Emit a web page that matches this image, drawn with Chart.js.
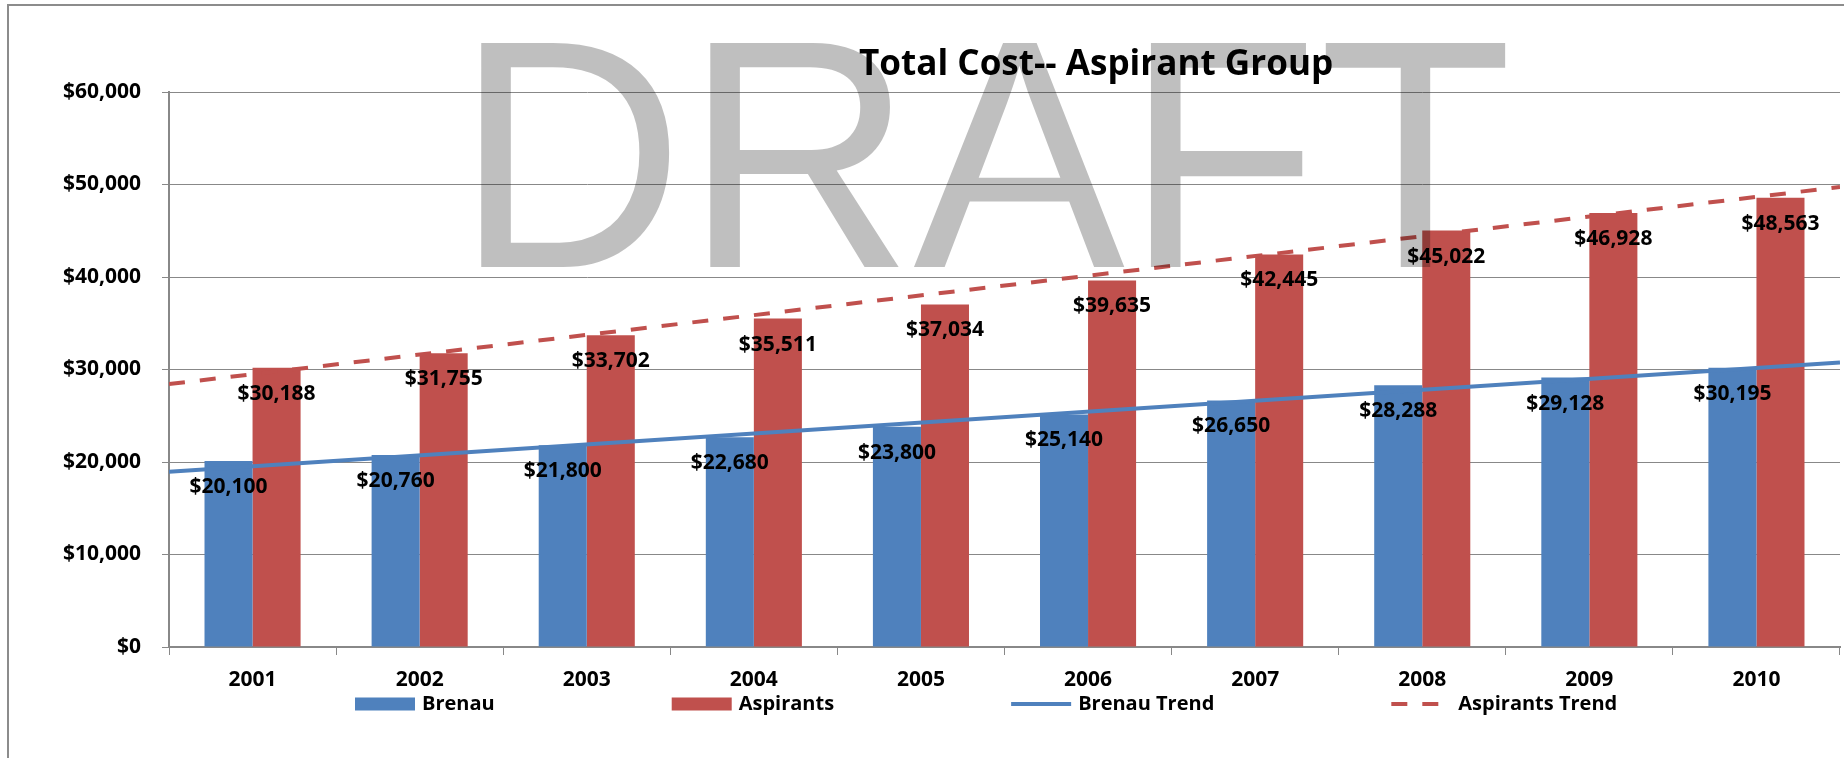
<!DOCTYPE html>
<html>
<head>
<meta charset="utf-8">
<title>Total Cost-- Aspirant Group</title>
<script src="https://cdn.jsdelivr.net/npm/chart.js@4.4.1/dist/chart.umd.min.js"></script>
<style>
  html, body { margin: 0; padding: 0; background: #fff; }
  canvas { display: block; }
</style>
</head>
<body>
<canvas id="cost" width="1844" height="758"></canvas>
<script>
var years = ['2001', '2002', '2003', '2004', '2005', '2006', '2007', '2008', '2009', '2010'];
var brenau = [20100, 20760, 21800, 22680, 23800, 25140, 26650, 28288, 29128, 30195];
var aspirants = [30188, 31755, 33702, 35511, 37034, 39635, 42445, 45022, 46928, 48563];
// trend lines as read where they meet the left and right edges of the plot
// (category index, half a year before 2001 and after 2010)
var trendSpan = [-0.5, 9.5];
var brenauTrend = [18940, 30770];
var aspirantsTrend = [28420, 49730];
var yTicks = [0, 10000, 20000, 30000, 40000, 50000, 60000];

var blue = '#4F81BD';
var red = '#C0504D';
var gridGray = '#888888';

function money(v) {
    return '$' + Number(v).toLocaleString('en-US');
}

function trendPoints(vals) {
    return trendSpan.map(function (x, i) { return { x: x, y: vals[i] }; });
}

Chart.defaults.font.family = "'Open Sans', sans-serif";
Chart.defaults.font.weight = 'bold';
Chart.defaults.font.size = 21;
Chart.defaults.color = '#000';

var extras = {
    id: 'extras',
    beforeDraw: function (chart) {
        var ctx = chart.ctx;
        ctx.save();
        ctx.fillStyle = '#fff';
        ctx.fillRect(0, 0, chart.width, chart.height);
        // outer frame, only top and left edges fall inside the picture
        ctx.strokeStyle = '#8c8c8c';
        ctx.lineWidth = 2;
        ctx.beginPath();
        ctx.moveTo(8, chart.height);
        ctx.lineTo(8, 5);
        ctx.lineTo(chart.width, 5);
        ctx.stroke();
        ctx.restore();
    },
    afterDatasetsDraw: function (chart) {
        var ctx = chart.ctx;
        ctx.save();
        ctx.font = 'bold 21px "Open Sans"';
        ctx.fillStyle = '#000';
        ctx.textAlign = 'center';
        ctx.textBaseline = 'middle';
        chart.data.datasets.forEach(function (ds, i) {
            if (ds.type !== 'bar') return;
            chart.getDatasetMeta(i).data.forEach(function (bar, j) {
                ctx.fillText(money(ds.data[j]), bar.x, bar.y + 26);
            });
        });
        ctx.restore();
    },
    afterDraw: function (chart) {
        var ctx = chart.ctx;
        var area = chart.chartArea;

        // legend
        ctx.save();
        ctx.font = 'bold 20px "Open Sans"';
        ctx.textBaseline = 'middle';
        var lx = area.left + 186;
        var ly = area.bottom + 57;
        chart.data.datasets.forEach(function (ds) {
            if (ds.type === 'line') {
                ctx.strokeStyle = ds.borderColor;
                ctx.lineWidth = ds.borderWidth;
                ctx.setLineDash(ds.borderDash || []);
                ctx.beginPath();
                ctx.moveTo(lx, ly);
                ctx.lineTo(lx + 60, ly);
                ctx.stroke();
                ctx.setLineDash([]);
            } else {
                ctx.fillStyle = ds.backgroundColor;
                ctx.fillRect(lx, ly - 6.5, 60, 13);
            }
            ctx.fillStyle = '#000';
            ctx.fillText(ds.label, lx + 67, ly);
            lx += 67 + ctx.measureText(ds.label).width + 177;
        });
        ctx.restore();

        // DRAFT watermark
        ctx.save();
        ctx.font = '320px "Liberation Sans"';
        ctx.textBaseline = 'alphabetic';
        ctx.textAlign = 'left';
        var m = ctx.measureText('DRAFT');
        var sx = 1027 / (m.actualBoundingBoxLeft + m.actualBoundingBoxRight);
        var sy = 229 / m.actualBoundingBoxAscent;
        ctx.translate(480, 267);
        ctx.scale(sx, sy);
        ctx.fillStyle = 'rgba(0,0,0,0.25)';
        ctx.fillText('DRAFT', m.actualBoundingBoxLeft, 0);
        ctx.restore();

        // title
        ctx.save();
        ctx.font = 'bold 35px "Open Sans"';
        ctx.textBaseline = 'alphabetic';
        ctx.textAlign = 'left';
        var t = chart.options.plugins.title.text;
        var tm = ctx.measureText(t);
        ctx.translate(859, 75);
        ctx.scale(473 / (tm.actualBoundingBoxLeft + tm.actualBoundingBoxRight), 1);
        ctx.fillStyle = '#000';
        ctx.fillText(t, tm.actualBoundingBoxLeft, 0);
        ctx.restore();
    }
};

var ctx = document.getElementById('cost').getContext('2d');
var costChart = new Chart(ctx, {
    type: 'bar',
    data: {
        labels: years,
        datasets: [
            {
                type: 'bar',
                label: 'Brenau',
                data: brenau,
                xAxisID: 'x',
                backgroundColor: blue,
                categoryPercentage: 0.575,
                barPercentage: 1.0,
                order: 1
            },
            {
                type: 'bar',
                label: 'Aspirants',
                data: aspirants,
                xAxisID: 'x',
                backgroundColor: red,
                categoryPercentage: 0.575,
                barPercentage: 1.0,
                order: 1
            },
            {
                type: 'line',
                label: 'Brenau Trend',
                data: trendPoints(brenauTrend),
                parsing: false,
                xAxisID: 'x',
                borderColor: blue,
                borderWidth: 4,
                pointRadius: 0,
                fill: false,
                order: 0
            },
            {
                type: 'line',
                label: 'Aspirants Trend',
                data: trendPoints(aspirantsTrend),
                parsing: false,
                xAxisID: 'x',
                borderColor: red,
                borderWidth: 4,
                borderDash: [16, 15],
                pointRadius: 0,
                fill: false,
                order: 0
            }
        ]
    },
    options: {
        responsive: false,
        animation: false,
        layout: { padding: { top: 92, right: 4, bottom: 0, left: 0 } },
        plugins: {
            legend: { display: false },
            tooltip: { enabled: false },
            title: { display: false, text: 'Total Cost-- Aspirant Group' }
        },
        scales: {
            x: {
                type: 'category',
                min: years[0],
                max: years[years.length - 1],
                offset: true,
                grid: {
                    display: true,
                    drawOnChartArea: false,
                    drawTicks: true,
                    tickLength: 8,
                    offset: true,
                    color: gridGray
                },
                border: { color: gridGray, width: 2 },
                ticks: { padding: 12 },
                afterFit: function (scale) { scale.height = 111; }
            },
            y: {
                min: yTicks[0],
                max: yTicks[yTicks.length - 1],
                grid: {
                    color: gridGray,
                    lineWidth: 1,
                    tickLength: 7
                },
                border: { color: gridGray, width: 2 },
                ticks: {
                    stepSize: yTicks[1] - yTicks[0],
                    padding: 21,
                    callback: function (v) { return money(v); }
                },
                afterFit: function (scale) { scale.width = 169; }
            }
        }
    },
    plugins: [extras]
});
</script>
</body>
</html>
